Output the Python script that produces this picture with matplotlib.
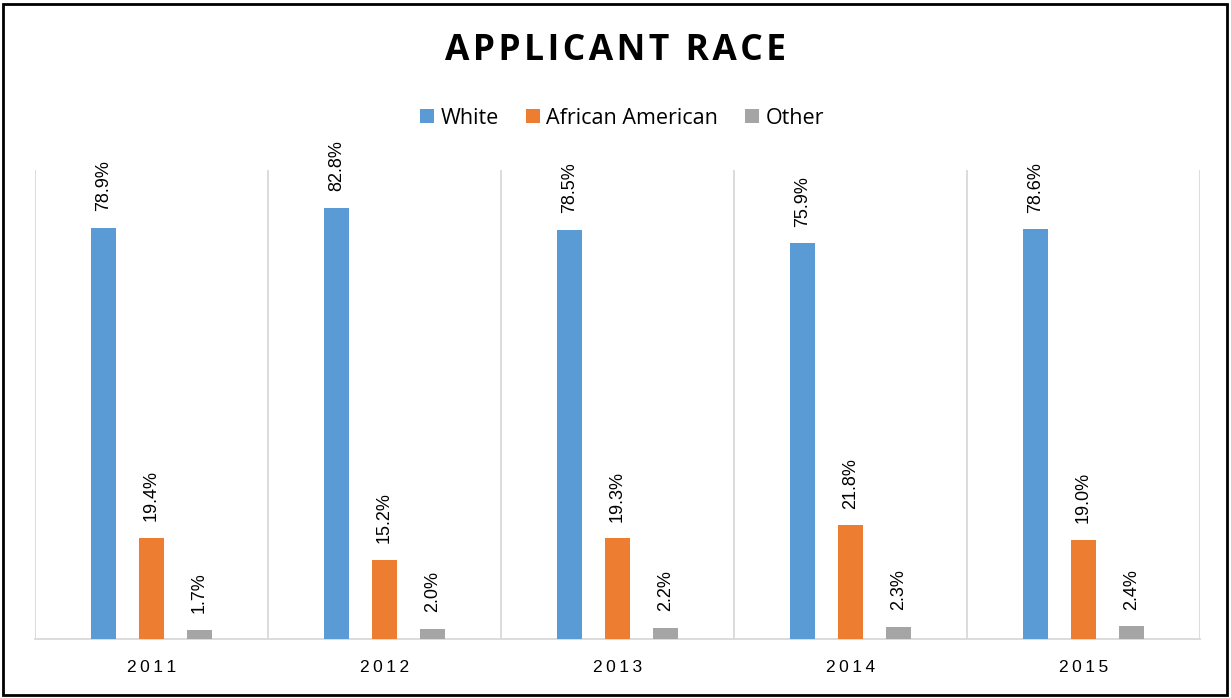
import matplotlib
matplotlib.use("Agg")
import matplotlib.pyplot as plt
import numpy as np

YEARS = ["2011", "2012", "2013", "2014", "2015"]
SERIES = ["White", "African American", "Other"]
WHITE = [78.9, 82.8, 78.5, 75.9, 78.6]
AFRICAN_AMERICAN = [19.4, 15.2, 19.3, 21.8, 19.0]
OTHER = [1.7, 2.0, 2.2, 2.3, 2.4]

COLORS = ["#5B9BD5", "#ED7D31", "#A5A5A5"]
GRID = "#D9D9D9"

fig = plt.figure(figsize=(12.31, 6.98), dpi=100)
ax = fig.add_axes([35 / 1231, 59 / 698, 1165 / 1231, 469 / 698])

x = np.arange(len(YEARS))
width = 0.107
step = 0.206
for i, (name, vals, color) in enumerate(zip(SERIES, [WHITE, AFRICAN_AMERICAN, OTHER], COLORS)):
    pos = x + (i - 1) * step
    ax.bar(pos, vals, width=width, color=color, label=name, zorder=3)
    for px, v in zip(pos, vals):
        ax.annotate(f"{v:.1f}%", (px, v), xytext=(0, 12), textcoords="offset points",
                    rotation=90, ha="center", va="bottom", fontsize=13,
                    family="Liberation Sans", color="#000000")

ax.set_xlim(-0.5, len(YEARS) - 0.5)
ax.set_ylim(0, 90)
ax.set_yticks([])
ax.set_xticks(x)
ax.set_xticklabels(["\u2009".join(y) for y in YEARS], fontsize=12.5, family="Liberation Sans")
ax.tick_params(axis="x", length=0, pad=15)
for b in np.arange(-0.5, len(YEARS), 1.0):
    ax.axvline(b, color=GRID, linewidth=1.3, zorder=1)
for s in ["top", "right", "left"]:
    ax.spines[s].set_visible(False)
ax.spines["bottom"].set_color(GRID)
ax.spines["bottom"].set_linewidth(1.3)

title = "\u200a".join("APPLICANT RACE")
fig.text(0.5, 1 - 51 / 698, title,
         ha="center", va="center", fontsize=25.5, fontweight="bold",
         family=["Open Sans", "DejaVu Sans"])

leg = fig.legend(loc="center", bbox_to_anchor=(622 / 1231, 1 - 118 / 698), ncol=3,
                 frameon=False, handlelength=0.65, handleheight=0.65, handletextpad=0.3,
                 columnspacing=1.25, prop={"family": "Open Sans", "size": 15.5})

fig.patches.append(plt.Rectangle((3 / 1231, 3 / 698), 1224 / 1231, 691 / 698,
                                 transform=fig.transFigure, fill=False,
                                 edgecolor="black", linewidth=2))

fig.savefig("out.png", dpi=100)
